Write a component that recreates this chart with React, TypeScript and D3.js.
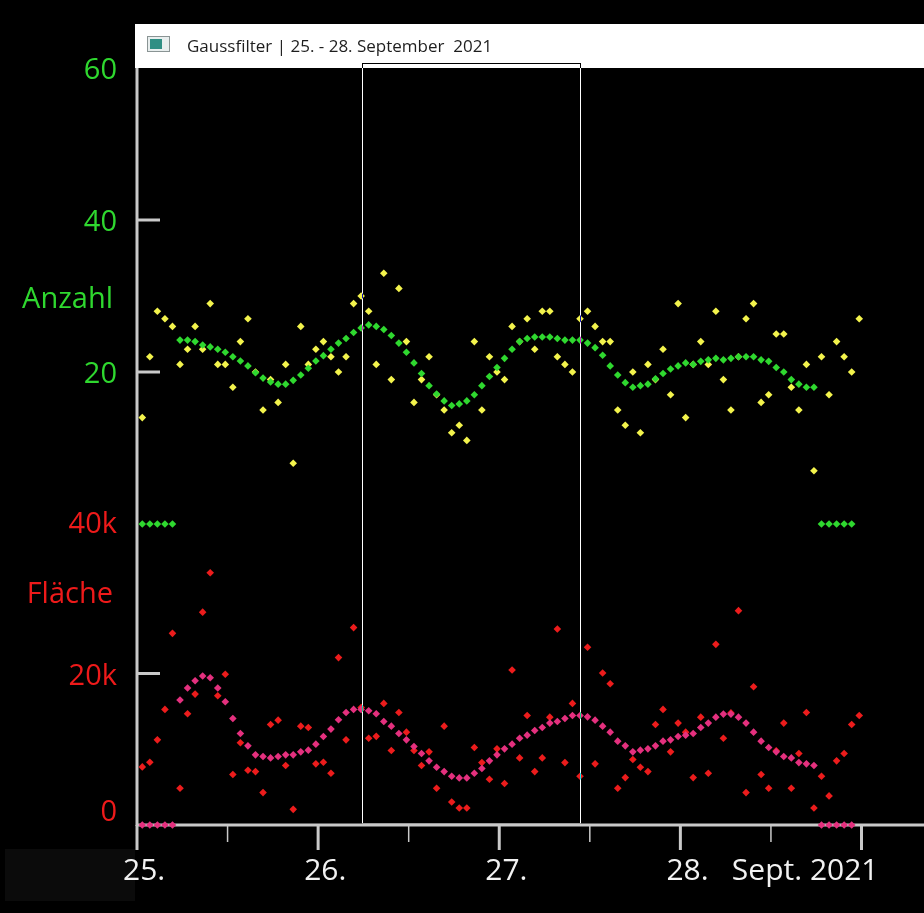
import React from "react";
import * as d3 from "d3";

// hourly values, 25.09.2021 00:00 .. 28.09.2021 23:00
const anzahlRaw = [
  14, 22, 28, 27, 26, 21, 23, 26, 23, 29, 21, 21, 18, 24, 27, 20, 15, 19, 16, 21, 8, 26, 21, 23,
  24, 22, 20, 22, 29, 30, 28, 21, 33, 19, 31, 24, 16, 19, 22, 17, 15, 12, 13, 11, 24, 15, 22, 20,
  19, 26, 24, 27, 23, 28, 28, 22, 21, 20, 27, 28, 26, 24, 24, 15, 13, 20, 12, 21, 19, 23, 17, 29,
  14, 21, 24, 21, 28, 19, 15, 22, 27, 29, 16, 17, 25, 25, 18, 15, 21, 7, 22, 17, 24, 22, 20, 27,
];

// gauss filtered (filter edges come out as 0)
const anzahlGauss = [
  0, 0, 0, 0, 0,
  24.2, 24.2, 24.0, 23.55, 23.3, 23.0, 22.6, 22.0, 21.45, 20.8,
  19.9, 19.2, 18.7, 18.4, 18.4, 18.9, 19.6, 20.5, 21.45, 22.15,
  23.0, 23.8, 24.4, 25.2, 25.8, 26.2, 26.0, 25.6, 24.8, 23.8,
  22.6, 21.2, 19.8, 18.2, 17.1, 16.2, 15.6, 15.8, 16.2, 17.0,
  18.2, 19.4, 20.6, 21.8, 23.0, 24.0, 24.4, 24.6, 24.6, 24.6,
  24.4, 24.2, 24.2, 24.2, 23.8, 23.2, 22.2, 20.8, 19.6, 18.6,
  18.0, 18.2, 18.4, 19.1, 19.8, 20.4, 20.8, 21.2, 21.0, 21.4,
  21.6, 21.8, 21.6, 21.8, 22.0, 22.0, 22.0, 21.6, 21.4, 20.6,
  20.0, 19.0, 18.4, 18.0, 18.0,
  0, 0, 0, 0, 0,
];

// Fläche in thousands
const flaecheRaw = [
  7.67, 8.29, 11.24, 15.26, 25.3, 4.85, 14.68, 17.28, 28.1, 33.3, 17.06, 19.9,
  6.66, 10.85, 7.23, 7.05, 4.28, 13.27, 13.84, 7.85, 2.07, 13.05, 12.88, 8.07,
  8.29, 6.83, 22.1, 11.24, 26.06, 15.5, 11.46, 11.7, 16.05, 9.83, 14.86, 12.26,
  9.83, 7.85, 9.66, 4.85, 13.05, 3.04, 2.25, 2.25, 10.23, 8.24, 6.04, 10.05,
  5.47, 20.46, 8.86, 14.46, 7.05, 8.86, 14.24, 25.88, 8.24, 16.05, 6.44, 23.46,
  8.07, 20.06, 18.65, 4.85, 6.26, 8.64, 7.63, 7.05, 13.27, 15.26, 9.66, 13.45,
  12.26, 6.26, 14.24, 6.83, 23.85, 11.46, 14.8, 28.3, 4.28, 18.25, 6.66, 4.85,
  9.8, 13.45, 4.85, 9.43, 14.86, 2.25, 6.44, 3.84, 8.47, 9.43, 13.27, 14.46,
];

const flaecheGauss = [
  0, 0, 0, 0, 0,
  16.5, 18.08, 19.05, 19.67, 19.44, 18.08, 16.27, 14.06, 12.08, 10.45,
  9.26, 9.04, 8.86, 9.04, 9.26, 9.26, 9.66, 9.88, 10.67, 11.68,
  12.66, 13.89, 14.86, 15.26, 15.26, 15.08, 14.68, 13.67, 13.05, 12.08,
  11.24, 10.36, 9.43, 8.47, 7.63, 7.05, 6.44, 6.22, 6.22, 6.83,
  7.45, 8.47, 9.26, 10.05, 10.67, 11.46, 11.86, 12.48, 12.88, 13.45,
  13.67, 14.06, 14.46, 14.46, 14.28, 13.84, 13.05, 12.26, 11.07, 10.45,
  9.66, 9.88, 10.05, 10.45, 11.07, 11.24, 11.68, 11.86, 12.08, 12.88,
  13.45, 14.24, 14.64, 14.64, 14.24, 13.45, 12.26, 11.07, 10.23, 9.66,
  9.04, 8.86, 8.24, 8.07, 7.85,
  0, 0, 0, 0, 0,
];

const anzahlTicks = [20, 40, 60];
const anzahlStubs = [20, 40];
const flaecheTicks = [0, 20, 40];
const flaecheStubs = [20];
const dayLabels = ["25.", "26.", "27.", "28."];
const title = "Gaussfilter | 25. - 28. September  2021";

const W = 924;
const H = 913;
const FONT = "'Open Sans', 'Noto Sans', sans-serif";
const GREEN = "#2fd82f";
const RED = "#ee1a1a";
const AXIS = "#c9c9c9";

const t0 = Date.UTC(2021, 8, 25);
const x = d3
  .scaleUtc()
  .domain([new Date(t0), new Date(Date.UTC(2021, 8, 29))])
  .range([137, 861.5]);
const hourX = (i: number) => x(new Date(t0 + (i + 0.7) * 3600e3));

const yA = d3.scaleLinear().domain([0, 60]).range([524, 68]);
const yF = d3.scaleLinear().domain([0, 40]).range([825, 522]);

const diamond = d3.symbol(d3.symbolSquare, 29)() || "";

const Dots: React.FC<{ values: number[]; y: d3.ScaleLinear<number, number>; fill: string }> = ({
  values,
  y,
  fill,
}) => (
  <g fill={fill}>
    {values.map((v, i) => (
      <path key={i} d={diamond} transform={`translate(${hourX(i)},${y(v)}) rotate(45)`} />
    ))}
  </g>
);

export default function App() {
  const days = x.ticks(d3.utcDay.every(1)!);
  const halfDays = d3.utcHour
    .every(12)!
    .range(x.domain()[0], x.domain()[1])
    .filter((d) => d.getUTCHours() === 12);

  return (
    <svg
      width={W}
      height={H}
      style={{ position: "absolute", left: 0, top: 0, background: "#000" }}
      fontFamily={FONT}
    >
      <rect width={W} height={H} fill="#000" />
      <rect x={5} y={849} width={130} height={52} fill="#0b0b0b" />

      {/* left axis */}
      <line x1={137} x2={137} y1={60} y2={826} stroke={AXIS} strokeWidth={3} />
      {anzahlStubs.map((v) => (
        <line key={v} x1={137} x2={160} y1={yA(v)} y2={yA(v)} stroke={AXIS} strokeWidth={3} />
      ))}
      {flaecheStubs.map((v) => (
        <line key={v} x1={137} x2={160} y1={yF(v)} y2={yF(v)} stroke={AXIS} strokeWidth={3} />
      ))}
      {anzahlTicks.map((v) => (
        <text key={v} x={117} y={yA(v) + 10.5} textAnchor="end" fill={GREEN} fontSize={29}>
          {v}
        </text>
      ))}
      <text x={113} y={308} textAnchor="end" fill={GREEN} fontSize={29}>
        Anzahl
      </text>
      {flaecheTicks.map((v) => (
        <text
          key={v}
          x={117}
          y={Math.min(yF(v), 810) + 11}
          textAnchor="end"
          fill={RED}
          fontSize={29}
        >
          {v === 0 ? "0" : `${v}k`}
        </text>
      ))}
      <text x={113} y={603} textAnchor="end" fill={RED} fontSize={29}>
        Fläche
      </text>

      {/* bottom axis */}
      <line x1={136} x2={W} y1={825} y2={825} stroke={AXIS} strokeWidth={3} />
      {days.map((d, i) => (
        <line key={i} x1={x(d)} x2={x(d)} y1={825} y2={850} stroke={AXIS} strokeWidth={3} />
      ))}
      {halfDays.map((d, i) => (
        <line key={i} x1={x(d)} x2={x(d)} y1={825} y2={842} stroke={AXIS} strokeWidth={1.5} />
      ))}
      {dayLabels.map((s, i) => (
        <text key={s} x={x(days[i]) - 14} y={880} fill="#f2f2f2" fontSize={30}>
          {s}
        </text>
      ))}
      <text x={x(days[4]) + 17} y={880} textAnchor="end" fill="#f2f2f2" fontSize={30}>
        Sept. 2021
      </text>

      {/* data */}
      <Dots values={anzahlRaw} y={yA} fill="#f3f34c" />
      <Dots values={anzahlGauss} y={yA} fill={GREEN} />
      <Dots values={flaecheRaw} y={yF} fill="#ec1c1c" />
      <Dots values={flaecheGauss} y={yF} fill="#e4307e" />

      {/* window title bar */}
      <rect x={135} y={24} width={W - 135} height={44} fill="#fff" />
      <rect x={147.5} y={36.5} width={22} height={15} fill="#e8eeee" stroke="#8a9494" />
      <rect x={150} y={39} width={12} height={10} fill="#2f8f84" />
      <text x={187} y={52} fill="#1e1e1e" fontSize={17} style={{ whiteSpace: "pre" }}>
        {title}
      </text>

      {/* selection window */}
      <rect
        x={362.5}
        y={63.5}
        width={218}
        height={760}
        fill="none"
        stroke="#fff"
        strokeWidth={1}
        style={{ mixBlendMode: "difference" }}
      />
    </svg>
  );
}
